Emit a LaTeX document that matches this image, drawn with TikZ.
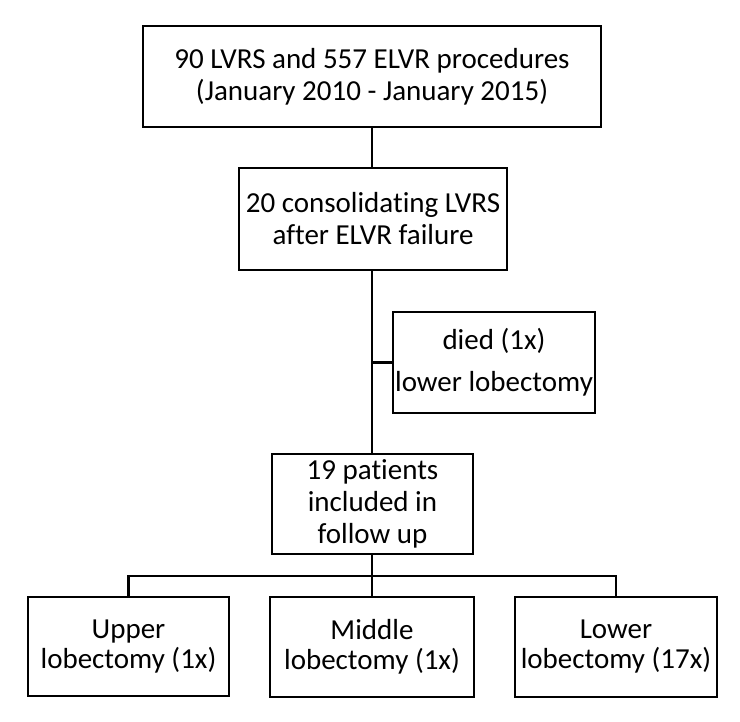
\documentclass[tikz,border=0pt]{standalone}
\usepackage{fontspec}
\setmainfont[Ligatures={NoCommon,NoRare}]{Carlito}
\begin{document}
\begin{tikzpicture}[x=1pt,y=-1pt,
  box/.style={draw=black,line width=2.2pt,rectangle,align=center,inner sep=0pt,
    font=\fontsize{29}{32}\selectfont},
  conn/.style={draw=black,line width=2.2pt}]
\useasboundingbox (0,0) rectangle (740,722);
\node[box,minimum width=458pt,minimum height=101pt] (b1) at (372,76.5)
  {90 LVRS and 557 ELVR procedures\\(January 2010 - January 2015)};
\node[box,minimum width=268pt,minimum height=102pt] (b2) at (373,219)
  {20 consolidating LVRS\\after ELVR failure};
\node[box,minimum width=202pt,minimum height=101pt] (died) at (494,362.5)
  {died (1x)\\[10pt]lower lobectomy};
\node[box,minimum width=201pt,minimum height=100pt] (b4) at (372.5,504)
  {19 patients\\included in\\follow up};
\node[box,minimum width=201pt,minimum height=99pt] (up) at (128.5,646.5)
  {Upper\\[-2pt]lobectomy (1x)};
\node[box,minimum width=204pt,minimum height=100pt] (mid) at (372,647)
  {Middle\\[-2pt]lobectomy (1x)};
\node[box,minimum width=202pt,minimum height=100pt] (low) at (616,647)
  {Lower\\[-2pt]lobectomy (17x)};
\coordinate (j) at (372,576);
\coordinate (k) at (372,362.5);
\draw[conn] (b1.south -| k) -- (b2.north -| k);
\draw[conn] (b2.south -| k) -- (b4.north -| k);
\draw[conn] (died.west) -- (k);
\draw[conn] (b4.south -| j) -- (j);
\draw[conn] (j) -| (up.north);
\draw[conn] (j) -| (low.north);
\draw[conn] (j) -- (mid.north -| j);
\end{tikzpicture}
\end{document}
